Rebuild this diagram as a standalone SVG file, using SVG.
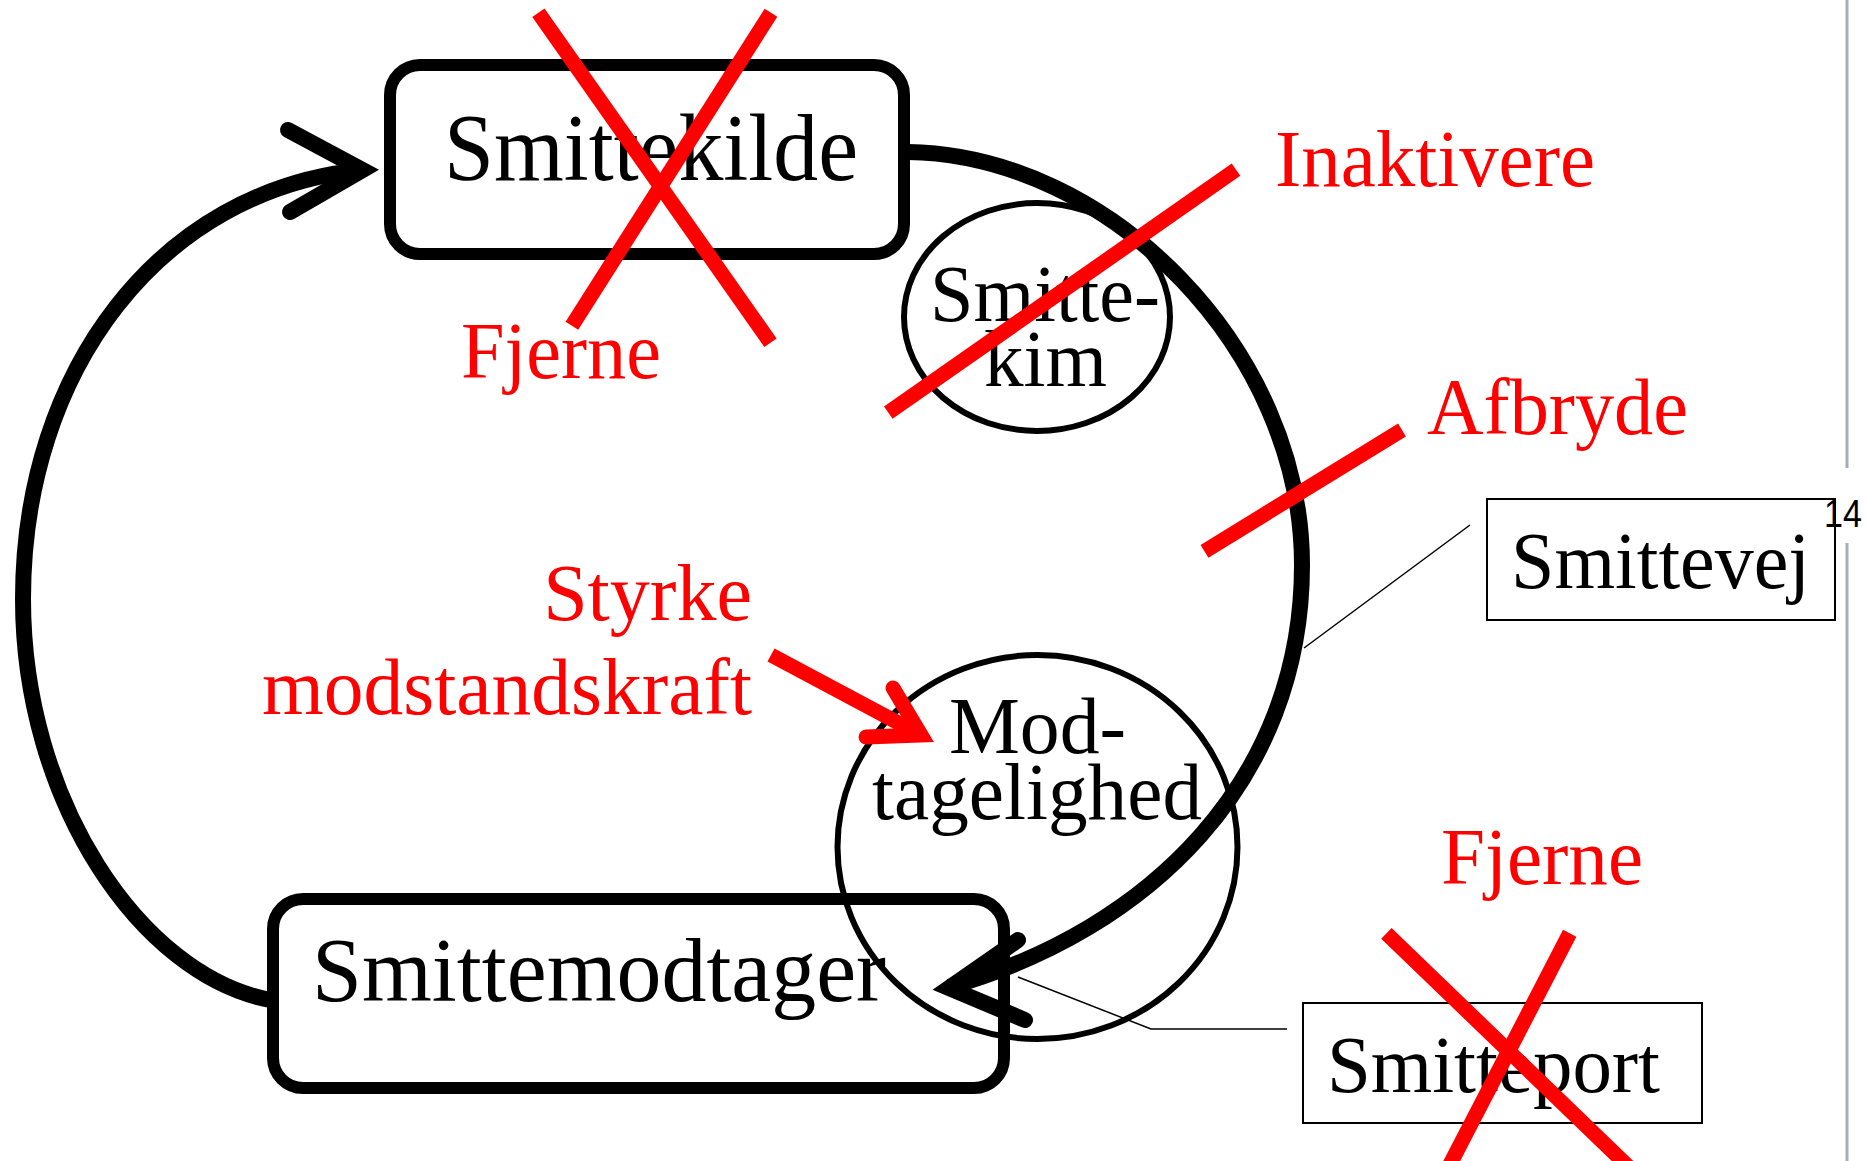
<svg xmlns="http://www.w3.org/2000/svg" width="1868" height="1161" viewBox="0 0 1868 1161">
<style>
.t{font-family:"Liberation Serif","Times New Roman",serif;fill:#000}
.r{font-family:"Liberation Serif","Times New Roman",serif;fill:#ff0000}
.box{fill:none;stroke:#000;stroke-width:12}
.lbl{fill:none;stroke:#000;stroke-width:2}
.ell{fill:none;stroke:#000;stroke-width:6}
.loop{fill:none;stroke:#000;stroke-width:16}
.head{fill:none;stroke:#000;stroke-width:16;stroke-linecap:round;stroke-linejoin:miter;stroke-miterlimit:10}
.thin{fill:none;stroke:#000;stroke-width:1.5}
.red{fill:none;stroke:#ff0000;stroke-width:15;stroke-linecap:butt}
.redhead{fill:none;stroke:#ff0000;stroke-width:15;stroke-linecap:round;stroke-linejoin:miter;stroke-miterlimit:10}
</style>
<rect width="1868" height="1161" fill="#fff"/>
<line x1="1847" y1="0" x2="1847" y2="468" stroke="#a7adb4" stroke-width="3"/>
<line x1="1847" y1="543" x2="1847" y2="1161" stroke="#a7adb4" stroke-width="3"/>

<g id="node-smittekilde">
<rect class="box" x="390" y="65" width="514" height="189" rx="30"/>
<text class="t" x="444" y="180" font-size="96" textLength="414" lengthAdjust="spacingAndGlyphs">Smittekilde</text>
</g>

<g id="node-smittemodtager">
<rect class="box" x="273" y="899" width="731" height="189" rx="30"/>
<text class="t" x="312" y="1001" font-size="90" textLength="574" lengthAdjust="spacingAndGlyphs">Smittemodtager</text>
</g>

<g id="node-smittekim">
<ellipse class="ell" cx="1037" cy="317" rx="133" ry="114"/>
<text class="t" x="930" y="321" font-size="80" textLength="230" lengthAdjust="spacingAndGlyphs">Smitte-</text>
<text class="t" x="984" y="386" font-size="80" textLength="123" lengthAdjust="spacingAndGlyphs">kim</text>
</g>

<g id="node-modtagelighed">
<ellipse class="ell" cx="1037.5" cy="847" rx="200" ry="192"/>
<text class="t" x="949" y="753" font-size="80" textLength="177" lengthAdjust="spacingAndGlyphs">Mod-</text>
<text class="t" x="872" y="819" font-size="80" textLength="330" lengthAdjust="spacingAndGlyphs">tagelighed</text>
</g>

<g id="node-smittevej">
<rect class="lbl" x="1487" y="499" width="348" height="121"/>
<text class="t" x="1511" y="588" font-size="80" textLength="299" lengthAdjust="spacingAndGlyphs">Smittevej</text>
</g>
<text x="1824" y="527" font-family="Liberation Sans, Arial, sans-serif" font-size="38" fill="#000" textLength="38" lengthAdjust="spacingAndGlyphs">14</text>

<g id="node-smitteport">
<rect class="lbl" x="1303" y="1003" width="399" height="120"/>
<text class="t" x="1327" y="1092" font-size="80" textLength="333" lengthAdjust="spacingAndGlyphs">Smitteport</text>
</g>

<g id="connectors">
<path class="loop" d="M 908 152 C 1110 155, 1302 350, 1302 565 C 1302 780, 1150 930, 949 987"/>
<path class="head" d="M 1018 940 L 949 988 L 1025 1020"/>
<path class="loop" d="M 270 1000 C 140 975, 23 800, 23 599 C 23 370, 160 190, 362 170"/>
<path class="head" d="M 288 130 L 362.6 170 L 290 212"/>
<polyline class="thin" points="1470,525 1304,648"/>
<polyline class="thin" points="1018,977 1151,1029 1287,1029"/>
</g>

<g id="annotations">
<line class="red" x1="538.4" y1="12.7" x2="770.5" y2="342.7"/>
<line class="red" x1="771" y1="12.7" x2="571.9" y2="325.7"/>
<text class="r" x="461" y="378" font-size="80" textLength="200" lengthAdjust="spacingAndGlyphs">Fjerne</text>
<line class="red" x1="888.3" y1="412.6" x2="1236" y2="169.7"/>
<text class="r" x="1275" y="186" font-size="80" textLength="320" lengthAdjust="spacingAndGlyphs">Inaktivere</text>
<line class="red" x1="1204.5" y1="551.3" x2="1402" y2="430"/>
<text class="r" x="1427" y="434" font-size="80" textLength="261" lengthAdjust="spacingAndGlyphs">Afbryde</text>
<text class="r" x="752" y="620" font-size="80" text-anchor="end">Styrke</text>
<text class="r" x="752" y="714" font-size="80" text-anchor="end" textLength="490" lengthAdjust="spacingAndGlyphs">modstandskraft</text>
<line class="red" x1="771" y1="655" x2="921" y2="735"/>
<path class="redhead" d="M 893 688 L 921 735 L 866 737"/>
<text class="r" x="1441" y="884" font-size="80" textLength="202" lengthAdjust="spacingAndGlyphs">Fjerne</text>
<line class="red" x1="1386.4" y1="933.3" x2="1636" y2="1174"/>
<line class="red" x1="1569.7" y1="933.3" x2="1445" y2="1174"/>
</g>
</svg>
